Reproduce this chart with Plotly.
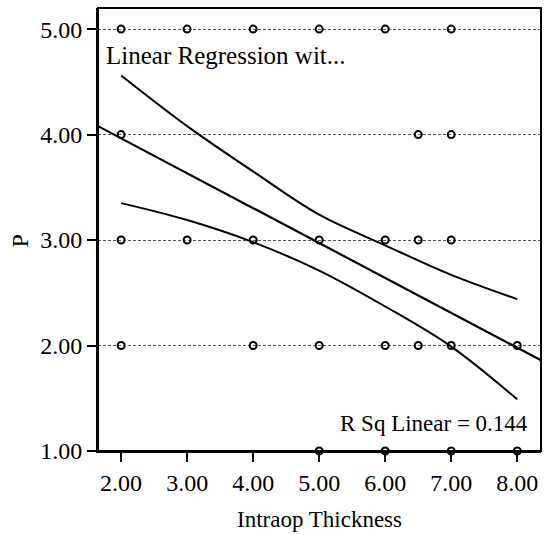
import plotly.graph_objects as go

# Observed data points (Intraop Thickness vs P)
thickness = [2, 2, 2, 2, 3, 3, 4, 4, 4, 5, 5, 5, 5, 6, 6, 6, 6, 6.5, 6.5, 6.5, 7, 7, 7, 7, 7, 8, 8]
p_values  = [5, 4, 3, 2, 5, 3, 5, 3, 2, 5, 3, 2, 1, 5, 3, 2, 1, 4, 3, 2, 5, 4, 3, 2, 1, 2, 1]

# Fit line
fit_x = [1.65, 8.36]
fit_y = [4.08, 1.86]

# Confidence bands
ci_x = [2, 3, 4, 5, 6, 7, 8]
ci_upper = [4.56, 4.08, 3.65, 3.24, 2.95, 2.67, 2.44]
ci_lower = [3.35, 3.19, 2.98, 2.71, 2.37, 1.99, 1.49]

x_ticks = [2, 3, 4, 5, 6, 7, 8]
x_labels = ["2.00", "3.00", "4.00", "5.00", "6.00", "7.00", "8.00"]
y_ticks = [1, 2, 3, 4, 5]
y_labels = ["1.00", "2.00", "3.00", "4.00", "5.00"]

FONT = "Liberation Serif"

fig = go.Figure()
fig.add_trace(go.Scatter(x=ci_x, y=ci_upper, mode="lines", line=dict(color="black", width=2, shape="spline"),
                         hoverinfo="skip", showlegend=False))
fig.add_trace(go.Scatter(x=ci_x, y=ci_lower, mode="lines", line=dict(color="black", width=2, shape="spline"),
                         hoverinfo="skip", showlegend=False))
fig.add_trace(go.Scatter(x=fit_x, y=fit_y, mode="lines", line=dict(color="black", width=2.2),
                         hoverinfo="skip", showlegend=False))
fig.add_trace(go.Scatter(x=thickness, y=p_values, mode="markers", cliponaxis=False,
                         marker=dict(symbol="circle-open", size=7, color="black", line=dict(width=2, color="black")),
                         showlegend=False))

fig.add_annotation(xref="paper", yref="paper", x=0.0135, y=0.892, xanchor="left", yanchor="middle",
                   text="Linear Regression wit...", showarrow=False, font=dict(family=FONT, size=25, color="black"))
fig.add_annotation(xref="paper", yref="paper", x=0.975, y=0.063, xanchor="right", yanchor="middle",
                   text="R Sq Linear = 0.144", showarrow=False, font=dict(family=FONT, size=23, color="black"))
# axis titles
fig.add_annotation(xref="paper", yref="paper", x=0.5, y=-0.155, xanchor="center", yanchor="middle",
                   text="Intraop Thickness", showarrow=False, font=dict(family=FONT, size=23, color="black"))
fig.add_annotation(xref="paper", yref="paper", x=-0.176, y=0.473, xanchor="center", yanchor="middle",
                   text="P", textangle=-90, showarrow=False, font=dict(family=FONT, size=24, color="black"))

# plot frame
fig.add_shape(type="rect", xref="paper", yref="paper", x0=0, x1=1, y0=0, y1=1,
              line=dict(color="black", width=2), fillcolor="rgba(0,0,0,0)", layer="above")

fig.update_layout(
    width=545, height=535,
    margin=dict(l=98, r=4, t=8, b=84, autoexpand=False),
    plot_bgcolor="white", paper_bgcolor="white",
    font=dict(family=FONT, color="black"),
)
fig.update_xaxes(range=[1.65, 8.36], tickvals=x_ticks, ticktext=x_labels, automargin=False,
                 showgrid=False, zeroline=False,
                 showline=True, linecolor="black", linewidth=2,
                 ticks="outside", ticklen=9, tickwidth=2, tickcolor="black",
                 tickfont=dict(family=FONT, size=24, color="black"))
fig.update_yaxes(range=[1, 5.2], tickvals=y_ticks, ticktext=y_labels, automargin=False,
                 showgrid=True, gridcolor="#555555", griddash="3px,2px", gridwidth=1, zeroline=False,
                 showline=True, linecolor="black", linewidth=2,
                 ticks="outside", ticklen=9, tickwidth=2, tickcolor="black",
                 tickfont=dict(family=FONT, size=24, color="black"))

fig.write_html("out.html", config={"displayModeBar": False},
               post_script="document.body.style.margin='0';document.body.style.overflow='hidden';")
